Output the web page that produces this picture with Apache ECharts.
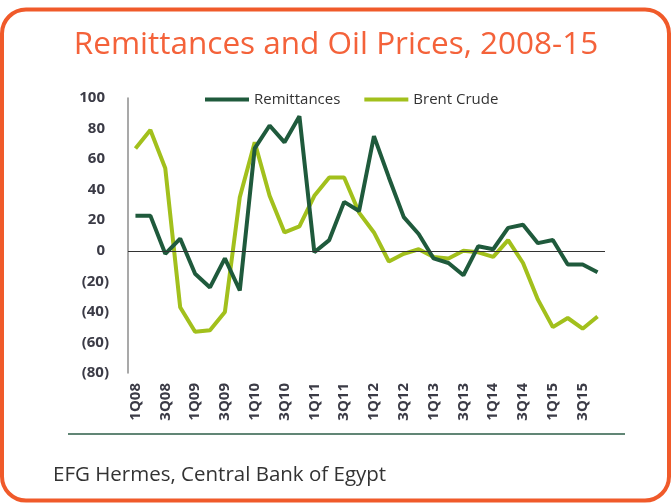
<!DOCTYPE html>
<html>
<head>
<meta charset="utf-8">
<script src="https://cdn.jsdelivr.net/npm/echarts@6/dist/echarts.min.js"></script>
<style>
  html, body { margin: 0; padding: 0; background: #fff; }
  #main { width: 672px; height: 504px; }
</style>
</head>
<body>
<div id="main"></div>
<script>
// quarters 1Q08 .. 4Q15
var quarters = ['1Q08','2Q08','3Q08','4Q08','1Q09','2Q09','3Q09','4Q09',
                '1Q10','2Q10','3Q10','4Q10','1Q11','2Q11','3Q11','4Q11',
                '1Q12','2Q12','3Q12','4Q12','1Q13','2Q13','3Q13','4Q13',
                '1Q14','2Q14','3Q14','4Q14','1Q15','2Q15','3Q15','4Q15'];

// y/y change, %
var remittances = [23, 23, -2, 8, -15, -24, -5, -26,
                   67, 82, 71, 88, -1, 7, 32, 26,
                   75, 48, 22, 11, -5, -8, -16, 3,
                   1, 15, 17, 5, 7, -9, -9, -14];
var brentCrude = [67, 79, 54, -37, -53, -52, -40, 35,
                  71, 36, 12, 16, 36, 48, 48, 25,
                  12, -7, -2, 1, -4, -5, 0, -1,
                  -4, 7, -8, -32, -50, -44, -51, -43];

var yTicks = { min: -80, max: 100, step: 20 };

var labelFont = { fontFamily: 'Open Sans', fontWeight: 'bold', fontSize: 15, color: '#3b3b46' };

var myChart = echarts.init(document.getElementById('main'));

var option = {
    animation: false,
    title: {
        text: 'Remittances and Oil Prices, 2008-15',
        left: 'center',
        top: 24,
        textStyle: {
            fontFamily: 'Open Sans',
            fontSize: 31.5,
            fontWeight: 'normal',
            color: '#f4623a'
        }
    },
    legend: {
        left: 200,
        top: 87,
        itemWidth: 44,
        itemHeight: 4,
        itemGap: 24,
        icon: 'rect',
        textStyle: { fontFamily: 'Open Sans', fontSize: 15, color: '#333' },
        data: ['Remittances', 'Brent Crude']
    },
    grid: { left: 128, right: 67, top: 98, bottom: 131 },
    xAxis: {
        type: 'category',
        data: quarters,
        boundaryGap: true,
        axisLine: { show: false },
        axisTick: { show: false },
        axisLabel: Object.assign({ interval: 1, rotate: 90, margin: 10 }, labelFont)
    },
    yAxis: {
        type: 'value',
        min: yTicks.min,
        max: yTicks.max,
        interval: yTicks.step,
        splitLine: { show: false },
        axisTick: { show: false },
        axisLine: { show: true, lineStyle: { color: '#8c8c8c', width: 1.5 } },
        axisLabel: Object.assign({
            margin: 19,
            formatter: function (v) {
                return v < 0 ? '(' + Math.abs(v) + ')' : '{p|' + v + '}';
            },
            rich: { p: Object.assign({ padding: [0, 4, 0, 0] }, labelFont) }
        }, labelFont)
    },
    series: [
        {
            name: 'Remittances',
            type: 'line',
            data: remittances,
            symbol: 'none',
            z: 3,
            color: '#1f5a3c',
            lineStyle: { width: 4, color: '#1f5a3c' },
            markLine: {
                silent: true,
                symbol: 'none',
                label: { show: false },
                lineStyle: { color: '#333', width: 1, type: 'solid' },
                data: [{ yAxis: 0 }]
            }
        },
        {
            name: 'Brent Crude',
            type: 'line',
            data: brentCrude,
            symbol: 'none',
            z: 2,
            color: '#a2c01c',
            lineStyle: { width: 4, color: '#a2c01c' }
        }
    ],
    graphic: [
        {
            type: 'rect',
            shape: { x: 2, y: 9.5, width: 667, height: 491, r: 24 },
            style: { fill: 'none', stroke: '#f05a2a', lineWidth: 4 },
            silent: true
        },
        {
            type: 'line',
            shape: { x1: 68, y1: 434, x2: 625, y2: 434 },
            style: { stroke: '#2d5e47', lineWidth: 1.5 },
            silent: true
        },
        {
            type: 'text',
            left: 53,
            top: 465,
            style: {
                text: 'EFG Hermes, Central Bank of Egypt',
                fontFamily: 'Open Sans',
                fontSize: 20.5,
                fill: '#333'
            },
            silent: true
        }
    ]
};

myChart.setOption(option);
</script>
</body>
</html>
